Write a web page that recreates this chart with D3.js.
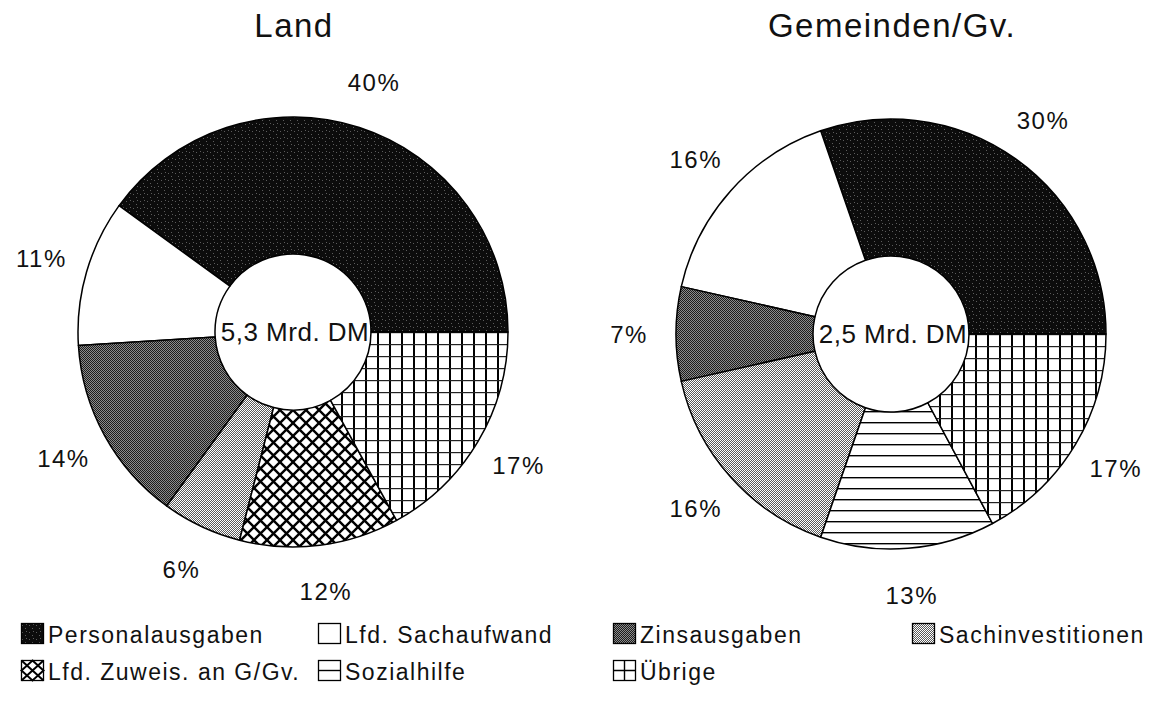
<!DOCTYPE html>
<html>
<head>
<meta charset="utf-8">
<script src="https://cdn.jsdelivr.net/npm/d3@7"></script>
<style>
    body { margin: 0; background: #fff; }
    text { font-family: "Liberation Sans", Arial, Helvetica, sans-serif; fill: #111; }
</style>
</head>
<body>
<svg id="chart" width="1154" height="701"></svg>
<script>
// Ausgabenstruktur: Anteile in Prozent, Reihenfolge wie in der Legende
const categories = [
    "Personalausgaben", "Lfd. Sachaufwand", "Zinsausgaben", "Sachinvestitionen",
    "Lfd. Zuweis. an G/Gv.", "Sozialhilfe", "Übrige"
];
const categoryKeys = ["personal", "sach", "zins", "inv", "zuweis", "sozial", "uebrige"];
const landValues = [40, 11, 14, 6, 12, 0, 17];
const gemeindenValues = [30, 16, 7, 16, 0, 13, 17];
const chartTitles = ["Land", "Gemeinden/Gv."];
const chartTotals = ["5,3 Mrd. DM", "2,5 Mrd. DM"];

const svg = d3.select("#chart");
svg.append("rect").attr("width", 1154).attr("height", 701).attr("fill", "#fff");

// --- fill patterns (black & white print look) ---
const defs = svg.append("defs");

function pattern(id, w, h) {
    return defs.append("pattern")
        .attr("id", id)
        .attr("patternUnits", "userSpaceOnUse")
        .attr("width", w)
        .attr("height", h);
}

// Personalausgaben: near black with faint speckle
let p = pattern("personal", 7, 7);
p.append("rect").attr("width", 7).attr("height", 7).attr("fill", "#0c0c0c");
[[1, 2], [4, 5], [5, 1]].forEach(([x, y]) => {
    p.append("rect").attr("x", x).attr("y", y).attr("width", 1).attr("height", 1).attr("fill", "#5c5c5c");
});

// Zinsausgaben: dark fine stipple
p = pattern("zins", 2, 2);
p.append("rect").attr("width", 2).attr("height", 2).attr("fill", "#1c1c1c");
p.append("rect").attr("x", 0).attr("y", 0).attr("width", 1).attr("height", 1).attr("fill", "#8c8c8c");
p.append("rect").attr("x", 1).attr("y", 1).attr("width", 1).attr("height", 1).attr("fill", "#8c8c8c");

// Sachinvestitionen: light stipple
p = pattern("inv", 2, 2);
p.append("rect").attr("width", 2).attr("height", 2).attr("fill", "#fff");
p.append("rect").attr("x", 0).attr("y", 0).attr("width", 1).attr("height", 1).attr("fill", "#5a5a5a");
p.append("rect").attr("x", 1).attr("y", 1).attr("width", 1).attr("height", 1).attr("fill", "#5a5a5a");

// Lfd. Zuweisungen: diagonal cross hatch
p = pattern("zuweis", 13, 13);
p.append("rect").attr("width", 13).attr("height", 13).attr("fill", "#fff");
p.append("path").attr("d", "M0,0L13,13M0,13L13,0").attr("stroke", "#000").attr("stroke-width", 2.4);

// Sozialhilfe: horizontal lines
p = pattern("sozial", 12, 11);
p.append("rect").attr("width", 12).attr("height", 11).attr("fill", "#fff");
p.append("rect").attr("y", 0).attr("width", 12).attr("height", 1.4).attr("fill", "#000");

// Übrige: grid, heavy verticals
p = pattern("uebrige", 12, 12);
p.append("rect").attr("width", 12).attr("height", 12).attr("fill", "#fff");
p.append("rect").attr("x", 0).attr("width", 2).attr("height", 12).attr("fill", "#000");
p.append("rect").attr("y", 0).attr("width", 12).attr("height", 1.2).attr("fill", "#222");

const fills = {
    personal: "url(#personal)", sach: "#fff", zins: "url(#zins)", inv: "url(#inv)",
    zuweis: "url(#zuweis)", sozial: "url(#sozial)", uebrige: "url(#uebrige)"
};

// --- donuts ---
const outerR = 215, innerR = 78, labelR = 262;
const centers = [[293, 332], [891, 334]];

// start at 3 o'clock, run counter-clockwise
const pie = d3.pie()
    .sort(null)
    .value(d => d.value)
    .startAngle(Math.PI / 2)
    .endAngle(Math.PI / 2 - 2 * Math.PI);

const arc = d3.arc().innerRadius(innerR).outerRadius(outerR);
const labelArc = d3.arc().innerRadius(labelR).outerRadius(labelR);

[landValues, gemeindenValues].forEach((values, ci) => {
    const data = categoryKeys
        .map((key, i) => ({ key, name: categories[i], value: values[i] }))
        .filter(d => d.value > 0);

    const [cx, cy] = centers[ci];

    svg.append("text")
        .attr("x", cx + 1)
        .attr("y", 37)
        .attr("text-anchor", "middle")
        .style("font-size", "33px")
        .style("letter-spacing", "1.5px")
        .text(chartTitles[ci]);

    const g = svg.append("g").attr("transform", `translate(${cx},${cy})`);
    const arcs = pie(data);

    g.selectAll("path.slice")
        .data(arcs)
        .enter()
        .append("path")
        .attr("class", "slice")
        .attr("d", arc)
        .attr("fill", d => fills[d.data.key])
        .attr("stroke", "#000")
        .attr("stroke-width", 1.5)
        .attr("stroke-linejoin", "round");

    g.selectAll("text.pct")
        .data(arcs)
        .enter()
        .append("text")
        .attr("class", "pct")
        .attr("transform", d => `translate(${labelArc.centroid(d)})`)
        .attr("text-anchor", "middle")
        .attr("dominant-baseline", "central")
        .style("font-size", "24px")
        .style("letter-spacing", "1.5px")
        .text(d => d.data.value + "%");

    g.append("text")
        .attr("x", 2)
        .attr("y", 0)
        .attr("text-anchor", "middle")
        .attr("dominant-baseline", "central")
        .style("font-size", "26px")
        .style("letter-spacing", "0.5px")
        .text(chartTotals[ci]);
});

// --- legend ---
const legendCols = [21, 318, 613, 912];
const legendRows = [623, 660];
const swW = 22, swH = 20;

const legend = svg.append("g").attr("class", "legend");
categories.forEach((name, i) => {
    const key = categoryKeys[i];
    const x = legendCols[i % 4];
    const y = legendRows[Math.floor(i / 4)];
    const item = legend.append("g").attr("transform", `translate(${x},${y})`);

    const lineKey = key === "zuweis" || key === "sozial" || key === "uebrige";
    item.append("rect")
        .attr("x", 0.5).attr("y", 0.5)
        .attr("width", swW).attr("height", swH)
        .attr("fill", lineKey ? "#fff" : fills[key])
        .attr("stroke", "#000")
        .attr("stroke-width", 1.3);

    // coarse versions of the line hatches for the small swatches
    let d = null;
    if (key === "zuweis") {
        const mx = 0.5 + swW / 2, my = 0.5 + swH / 2;
        d = `M0.5,0.5L${swW + 0.5},${swH + 0.5}M0.5,${swH + 0.5}L${swW + 0.5},0.5` +
            `M${mx},0.5L${swW + 0.5},${my}L${mx},${swH + 0.5}L0.5,${my}Z`;
    } else if (key === "sozial") {
        d = `M0.5,${0.5 + swH / 2}H${swW + 0.5}`;
    } else if (key === "uebrige") {
        d = `M0.5,${0.5 + swH / 2}H${swW + 0.5}M${0.5 + swW / 2},0.5V${swH + 0.5}`;
    }
    if (d) {
        item.append("path")
            .attr("d", d)
            .attr("fill", "none")
            .attr("stroke", "#000")
            .attr("stroke-width", key === "zuweis" ? 2 : 1.4);
    }

    item.append("text")
        .attr("x", swW + 5)
        .attr("y", swH)
        .style("font-size", "23px")
        .style("letter-spacing", "1.5px")
        .text(name);
});
</script>
</body>
</html>
